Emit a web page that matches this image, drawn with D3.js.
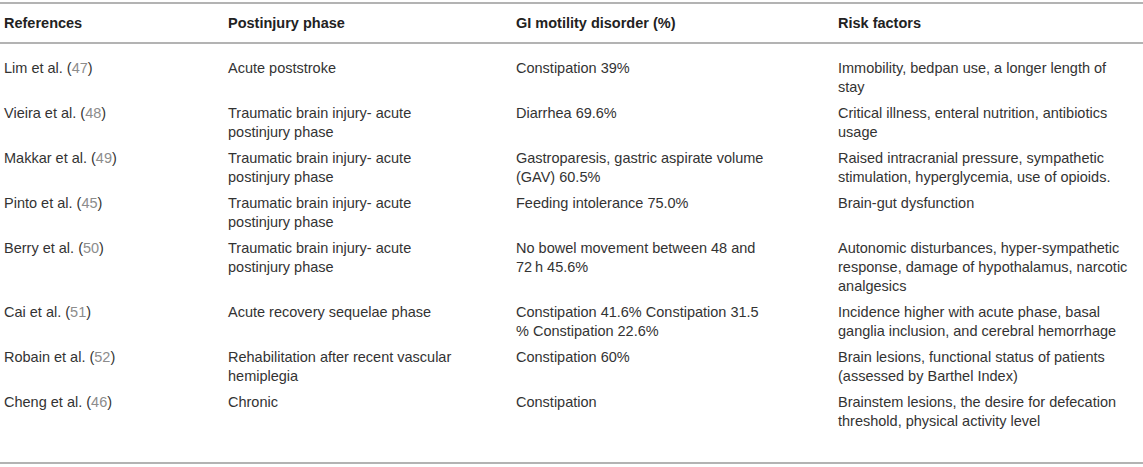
<!DOCTYPE html>
<html>
<head>
<meta charset="utf-8">
<script src="https://cdn.jsdelivr.net/npm/d3@7"></script>
<style>
  html, body { margin: 0; padding: 0; background: #fff; }
  svg text { font-family: "Liberation Sans", Arial, Helvetica, sans-serif; }
</style>
</head>
<body>
<div id="table"></div>
<script>
// table content, one array per column
const headers = ["References", "Postinjury phase", "GI motility disorder (%)", "Risk factors"];

const references = ["Lim et al.", "Vieira et al.", "Makkar et al.", "Pinto et al.",
                    "Berry et al.", "Cai et al.", "Robain et al.", "Cheng et al."];
const refNumbers = ["47", "48", "49", "45", "50", "51", "52", "46"];

const phases = [
  ["Acute poststroke"],
  ["Traumatic brain injury- acute", "postinjury phase"],
  ["Traumatic brain injury- acute", "postinjury phase"],
  ["Traumatic brain injury- acute", "postinjury phase"],
  ["Traumatic brain injury- acute", "postinjury phase"],
  ["Acute recovery sequelae phase"],
  ["Rehabilitation after recent vascular", "hemiplegia"],
  ["Chronic"]
];

const disorders = [
  ["Constipation 39%"],
  ["Diarrhea 69.6%"],
  ["Gastroparesis, gastric aspirate volume", "(GAV) 60.5%"],
  ["Feeding intolerance 75.0%"],
  ["No bowel movement between 48 and", "72\u2009h 45.6%"],
  ["Constipation 41.6% Constipation 31.5", "% Constipation 22.6%"],
  ["Constipation 60%"],
  ["Constipation"]
];

const riskFactors = [
  ["Immobility, bedpan use, a longer length of", "stay"],
  ["Critical illness, enteral nutrition, antibiotics", "usage"],
  ["Raised intracranial pressure, sympathetic", "stimulation, hyperglycemia, use of opioids."],
  ["Brain-gut dysfunction"],
  ["Autonomic disturbances, hyper-sympathetic", "response, damage of hypothalamus, narcotic", "analgesics"],
  ["Incidence higher with acute phase, basal", "ganglia inclusion, and cerebral hemorrhage"],
  ["Brain lesions, functional status of patients", "(assessed by Barthel Index)"],
  ["Brainstem lesions, the desire for defecation", "threshold, physical activity level"]
];

const width = 1143, height = 467;
const lineH = 19, rowPad = 7, fontSize = 14.5;
const headTop = 3, headBottom = 43, firstLine = 25, bottomPad = 41;

const svg = d3.select("#table").append("svg")
    .attr("width", width)
    .attr("height", height);

const xCol = d3.scaleOrdinal()
    .domain(d3.range(headers.length))
    .range([4, 228, 516, 838]);

// build rows and their vertical positions
const rows = references.map((r, i) => ({
  cells: [null, phases[i], disorders[i], riskFactors[i]],
  ref: r, num: refNumbers[i],
  n: Math.max(1, phases[i].length, disorders[i].length, riskFactors[i].length)
}));
let y0 = headBottom;
rows.forEach(r => { r.top = y0; y0 += rowPad + lineH * r.n; });
const tableBottom = y0 + bottomPad;

// rules
svg.selectAll("line.rule")
  .data([headTop, headBottom, tableBottom])
  .join("line")
    .attr("class", "rule")
    .attr("x1", 0).attr("x2", width)
    .attr("y1", d => d).attr("y2", d => d)
    .attr("stroke", "#b3b3b3")
    .attr("stroke-width", 2);

// header
svg.selectAll("text.head")
  .data(headers)
  .join("text")
    .attr("class", "head")
    .attr("x", (d, i) => xCol(i))
    .attr("y", (headTop + headBottom) / 2)
    .attr("dy", "0.35em")
    .attr("font-size", fontSize)
    .attr("font-weight", "bold")
    .attr("fill", "#222")
    .text(d => d);

// body rows
const g = svg.selectAll("g.row")
  .data(rows)
  .join("g")
    .attr("class", "row")
    .attr("transform", d => `translate(0,${d.top + firstLine})`);

const refText = g.append("text")
    .attr("x", xCol(0))
    .attr("dy", "0.35em")
    .attr("font-size", fontSize)
    .attr("fill", "#333");
refText.append("tspan").text(d => d.ref + " (");
refText.append("tspan").attr("fill", "#8c8c8c").text(d => d.num);
refText.append("tspan").text(")");

[1, 2, 3].forEach(c => {
  g.append("text")
      .attr("font-size", fontSize)
      .attr("fill", "#333")
    .selectAll("tspan")
    .data(d => d.cells[c])
    .join("tspan")
      .attr("x", xCol(c))
      .attr("y", (d, i) => i * lineH)
      .attr("dy", "0.35em")
      .text(d => d);
});
</script>
</body>
</html>
